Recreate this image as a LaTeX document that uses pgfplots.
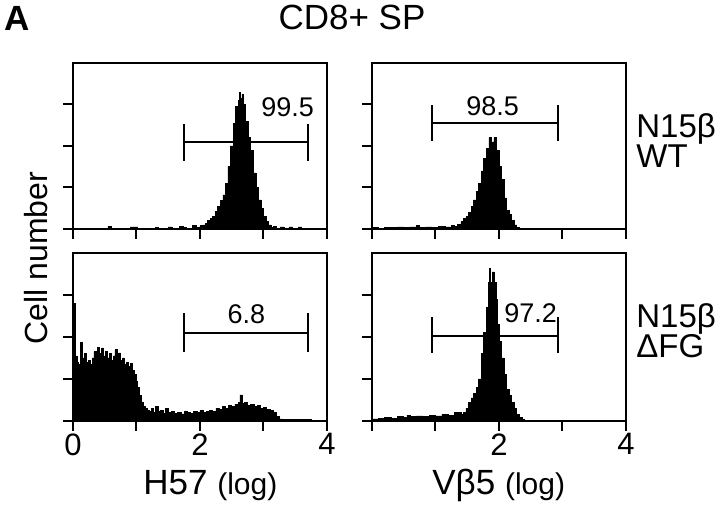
\documentclass[border=0pt]{standalone}
\usepackage{fontspec}
\setmainfont{Liberation Sans}
\usepackage{pgfplots}
\pgfplotsset{compat=1.18}
\tikzset{
  num/.style={font=\fontsize{13.5}{15}\selectfont},
}
\pgfplotsset{
  hist/.style={const plot mark left, fill=black, draw=black, line width=0.3pt},
  gate/.style={black, line width=1pt},
  panel/.style={
    scale only axis, width=127pt, height=83pt,
    xmin=0, xmax=4, ymin=0, ymax=4,
    xtick={0,1,2,3,4}, ytick={0,1,2,3}, yticklabels={},
    tick pos=left, tick align=outside, major tick length=5pt,
    axis line style={line width=1pt},
    every tick/.style={black, line width=1pt},
    tick label style={font=\fontsize{15.5}{17}\selectfont},
    /pgf/number format/assume math mode=true,
    xticklabel style={yshift=0pt, inner sep=1pt},
    clip=false,
  },
}
\begin{document}
\begin{tikzpicture}
\path[use as bounding box] (0,0) rectangle (360pt,253.5pt);

% ---------- top left: H57, WT ----------
\begin{axis}[panel, at={(36.5pt,139pt)}, anchor=south west, xticklabels={}]
\addplot[hist] coordinates {
(0,0) (0.55,0.06) (0.6,0) (0.9,0.05) (0.98,0.05) (1.02,0) (1.3,0.04) (1.35,0)
(1.5,0.05) (1.56,0) (1.68,0.06) (1.74,0.04) (1.78,0) (1.88,0.08) (1.94,0.03)
(2.0,0.08) (2.04,0.1) (2.08,0.14) (2.12,0.2) (2.16,0.25) (2.20,0.3) (2.24,0.42)
(2.28,0.55) (2.32,0.68) (2.36,0.82) (2.40,1.1) (2.44,1.5) (2.48,2.0) (2.52,2.55)
(2.56,2.95) (2.60,3.1) (2.62,3.3) (2.64,3.15) (2.66,3.25) (2.68,3.0) (2.72,2.6)
(2.76,2.2) (2.80,1.9) (2.84,1.35) (2.88,1.0) (2.92,0.7) (2.96,0.5) (3.00,0.3)
(3.04,0.18) (3.08,0.1) (3.12,0.04) (3.16,0.06) (3.2,0.02) (3.26,0.05) (3.32,0.02)
(3.4,0.05) (3.46,0) (3.55,0.05) (3.6,0.02) (3.7,0) (4,0)
} \closedcycle;
\addplot[gate] coordinates {(1.75,2.1) (3.70,2.1)};
\addplot[gate] coordinates {(1.75,1.64) (1.75,2.54)};
\addplot[gate] coordinates {(3.70,1.64) (3.70,2.54)};
\node[num] at (axis cs:3.38,2.93) {99.5};
\end{axis}

% ---------- top right: Vb5, WT ----------
\begin{axis}[panel, at={(186pt,139pt)}, anchor=south west, xticklabels={}]
\addplot[hist] coordinates {
(0,0.03) (0.1,0.02) (0.2,0.04) (0.3,0.03) (0.4,0.05) (0.5,0.03) (0.6,0.05)
(0.7,0.08) (0.75,0.04) (0.85,0.05) (0.95,0.04) (1.05,0.06) (1.15,0.05) (1.25,0.08)
(1.3,0.06) (1.35,0.12) (1.40,0.18) (1.44,0.25) (1.48,0.3) (1.52,0.4) (1.56,0.55)
(1.60,0.7) (1.64,0.9) (1.68,1.1) (1.72,1.4) (1.76,1.7) (1.80,1.95) (1.84,2.2)
(1.88,2.1) (1.92,2.2) (1.96,1.9) (2.00,1.5) (2.04,1.2) (2.08,0.75) (2.12,0.45)
(2.16,0.35) (2.20,0.2) (2.24,0.1) (2.28,0.03) (2.32,0.01) (2.4,0) (4,0)
} \closedcycle;
\addplot[gate] coordinates {(0.95,2.55) (2.93,2.55)};
\addplot[gate] coordinates {(0.95,2.13) (0.95,2.98)};
\addplot[gate] coordinates {(2.93,2.13) (2.93,2.98)};
\node[num] at (axis cs:1.9,2.95) {98.5};
\end{axis}

% ---------- bottom left: H57, dFG ----------
\begin{axis}[panel, height=84pt, at={(36.5pt,43pt)}, anchor=south west, xticklabels={0,,2,,4}]
\addplot[hist] coordinates {
(0,2.8) (0.03,1.55) (0.06,1.4) (0.09,1.35) (0.12,1.88) (0.15,1.5) (0.18,1.6)
(0.21,1.4) (0.24,1.45) (0.27,1.35) (0.30,1.5) (0.33,1.65) (0.36,1.45) (0.39,1.75)
(0.42,1.6) (0.45,1.74) (0.48,1.55) (0.51,1.65) (0.54,1.5) (0.57,1.6) (0.60,1.45)
(0.63,1.55) (0.66,1.7) (0.69,1.5) (0.72,1.62) (0.75,1.45) (0.78,1.5) (0.81,1.35)
(0.84,1.4) (0.87,1.3) (0.90,1.38) (0.93,1.2) (0.96,1.1) (0.99,0.95) (1.02,0.8)
(1.05,0.6) (1.08,0.45) (1.11,0.35) (1.14,0.3) (1.17,0.25) (1.20,0.22) (1.23,0.3)
(1.26,0.2) (1.30,0.35) (1.34,0.22) (1.38,0.25) (1.42,0.18) (1.46,0.3) (1.50,0.2)
(1.55,0.22) (1.60,0.18) (1.65,0.2) (1.70,0.17) (1.75,0.22) (1.80,0.2) (1.85,0.18)
(1.90,0.22) (1.95,0.2) (2.00,0.25) (2.05,0.2) (2.10,0.22) (2.15,0.25) (2.20,0.22)
(2.25,0.3) (2.30,0.28) (2.35,0.35) (2.40,0.3) (2.45,0.38) (2.50,0.35) (2.55,0.4)
(2.60,0.45) (2.63,0.62) (2.66,0.42) (2.70,0.45) (2.75,0.38) (2.80,0.4) (2.85,0.35)
(2.90,0.38) (2.95,0.3) (3.00,0.32) (3.05,0.28) (3.10,0.25) (3.15,0.2) (3.20,0.1)
(3.25,0.05) (3.30,0.04) (3.5,0.03) (3.75,0.02) (3.8,0) (4,0)
} \closedcycle;
\addplot[gate] coordinates {(1.75,2.1) (3.70,2.1)};
\addplot[gate] coordinates {(1.75,1.64) (1.75,2.57)};
\addplot[gate] coordinates {(3.70,1.64) (3.70,2.57)};
\node[num] at (axis cs:2.73,2.55) {6.8};
\end{axis}

% ---------- bottom right: Vb5, dFG ----------
\begin{axis}[panel, height=84pt, at={(186pt,43pt)}, anchor=south west, xticklabels={,,2,,4}]
\addplot[hist] coordinates {
(0,0.05) (0.1,0.06) (0.2,0.08) (0.3,0.07) (0.4,0.1) (0.5,0.09) (0.55,0.14)
(0.6,0.1) (0.7,0.12) (0.8,0.1) (0.9,0.13) (1.0,0.12) (1.1,0.15) (1.2,0.13)
(1.3,0.2) (1.40,0.15) (1.44,0.2) (1.48,0.3) (1.52,0.45) (1.56,0.55) (1.60,0.65)
(1.64,0.8) (1.68,1.0) (1.72,1.6) (1.76,2.1) (1.80,2.7) (1.83,3.3) (1.85,3.64)
(1.87,3.3) (1.89,3.55) (1.92,3.3) (1.95,2.9) (1.98,2.3) (2.01,1.9) (2.04,1.5)
(2.08,1.1) (2.12,0.75) (2.16,0.6) (2.20,0.45) (2.24,0.3) (2.28,0.15) (2.32,0.08)
(2.36,0.03) (2.40,0.01) (2.45,0) (4,0)
} \closedcycle;
\addplot[gate] coordinates {(0.95,2.03) (2.93,2.03)};
\addplot[gate] coordinates {(0.95,1.63) (0.95,2.48)};
\addplot[gate] coordinates {(2.93,1.63) (2.93,2.48)};
\node[num] at (axis cs:2.5,2.56) {97.2};
\end{axis}

% ---------- texts ----------
\node[anchor=base west, inner sep=0pt, font=\fontsize{17.5}{20}\selectfont\bfseries] at (2pt,238pt) {A};
\node[anchor=base, inner sep=0pt, font=\fontsize{17.5}{20}\selectfont] at (176pt,238.5pt) {CD8+ SP};
\node[anchor=base, inner sep=0pt, rotate=90, font=\fontsize{16}{18}\selectfont] at (23.5pt,124.5pt) {Cell number};
\node[anchor=base west, inner sep=0pt, font=\fontsize{16.5}{18}\selectfont] at (318pt,184.5pt) {N15β};
\node[anchor=base west, inner sep=0pt, font=\fontsize{16.5}{18}\selectfont] at (318pt,169.5pt) {WT};
\node[anchor=base west, inner sep=0pt, font=\fontsize{16.5}{18}\selectfont] at (318pt,89.5pt) {N15β};
\node[anchor=base west, inner sep=0pt, font=\fontsize{16.5}{18}\selectfont] at (318pt,74.5pt) {ΔFG};
\node[anchor=base west, inner sep=0pt] at (71.5pt,6pt) {\fontsize{17.5}{20}\selectfont H57 \fontsize{15}{17}\selectfont (log)};
\node[anchor=base west, inner sep=0pt] at (216pt,6pt) {\fontsize{17.5}{20}\selectfont Vβ5 \fontsize{15}{17}\selectfont (log)};
\end{tikzpicture}
\end{document}
